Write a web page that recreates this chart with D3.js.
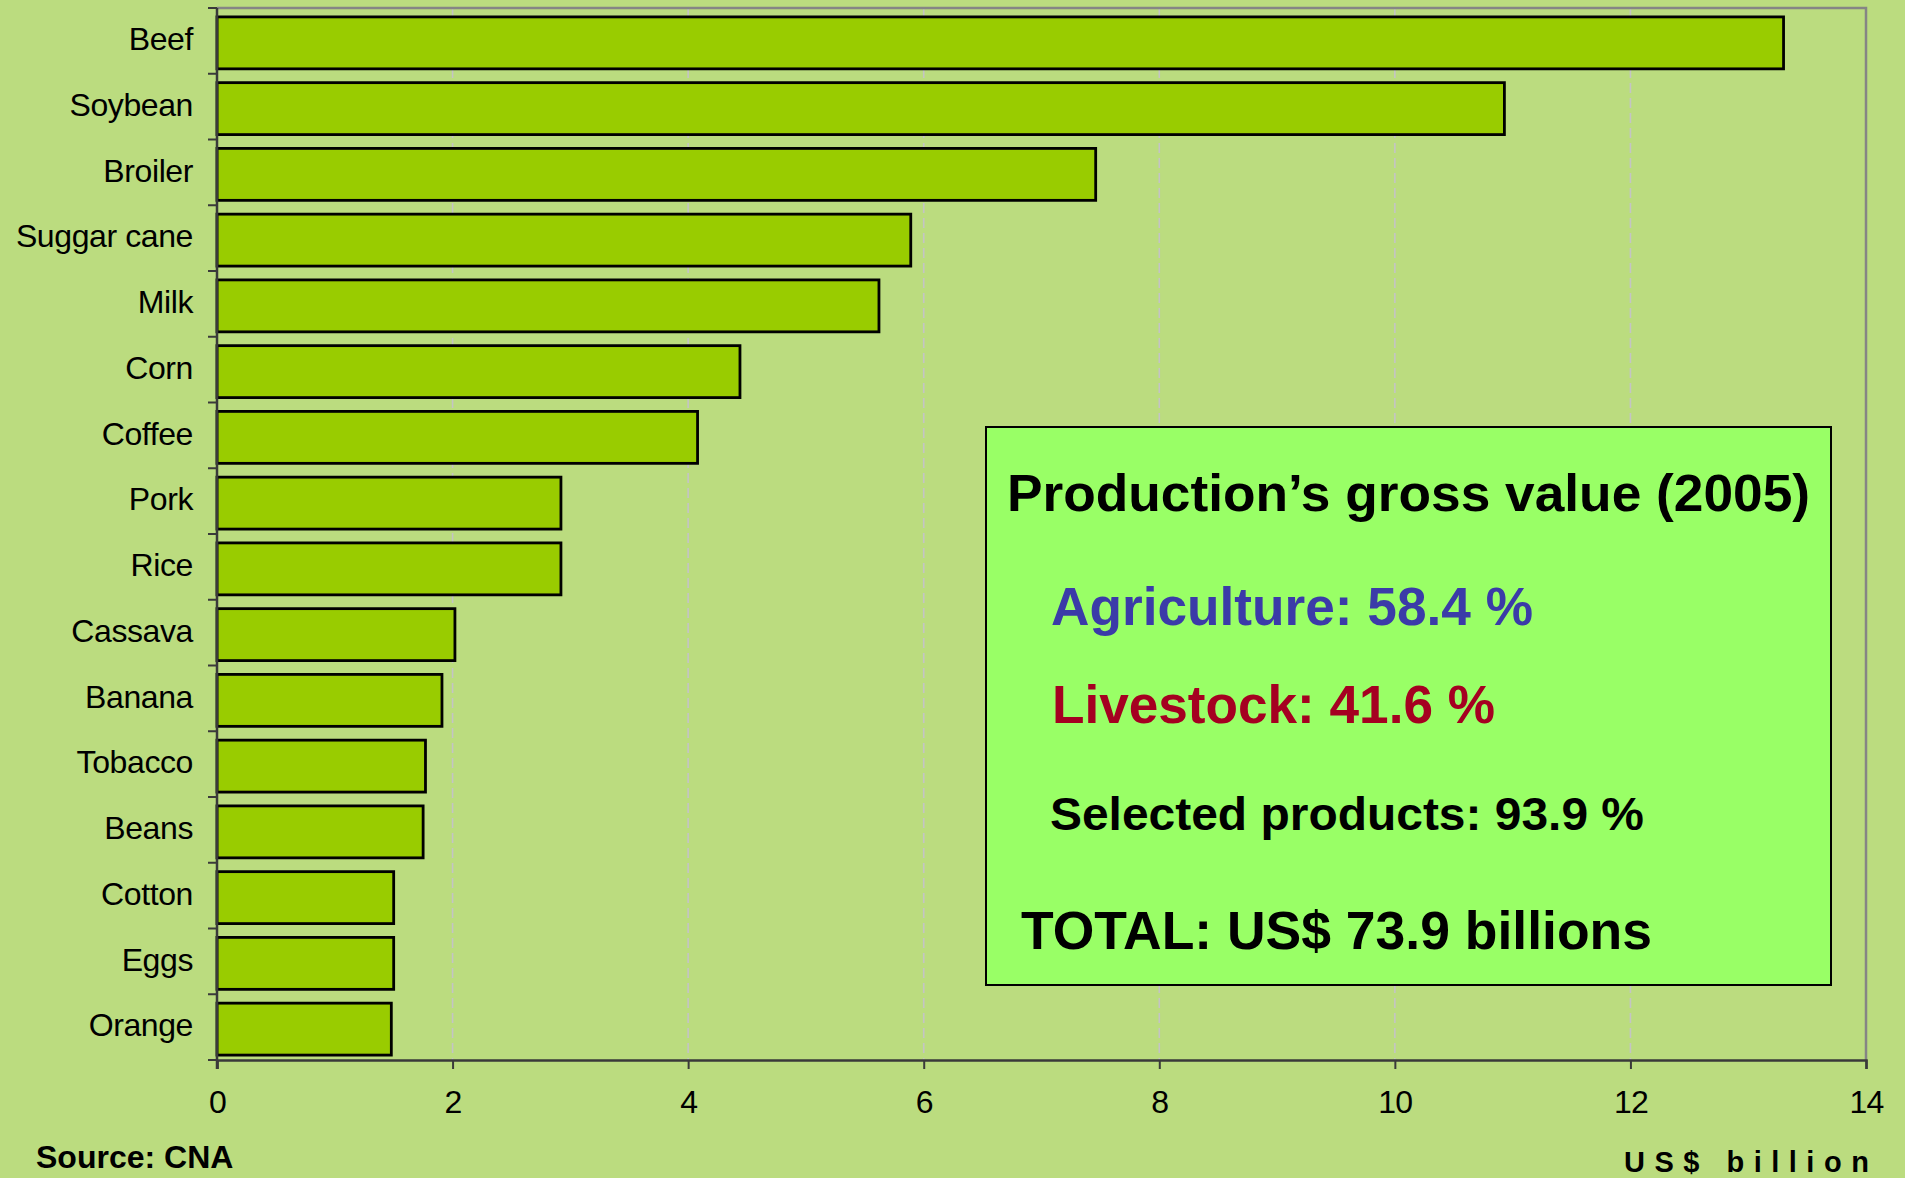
<!DOCTYPE html>
<html><head><meta charset="utf-8">
<script src="https://cdn.jsdelivr.net/npm/d3@7"></script>
<style>html,body{margin:0;padding:0;background:#bbdc7f;overflow:hidden}svg{display:block}</style>
</head><body><svg id="c" width="1905" height="1178"></svg>
<script>
const categories = ["Beef","Soybean","Broiler","Suggar cane","Milk","Corn","Coffee","Pork","Rice","Cassava","Banana","Tobacco","Beans","Cotton","Eggs","Orange"];
const values = [13.3,10.93,7.46,5.89,5.62,4.44,4.08,2.92,2.92,2.02,1.91,1.77,1.75,1.50,1.50,1.48];
const xTicks = [0,2,4,6,8,10,12,14];
const infoTitle = "Production\u2019s gross value (2005)";
const infoAgri = "Agriculture: 58.4 %";
const infoLive = "Livestock: 41.6 %";
const infoSel = "Selected products: 93.9 %";
const infoTotal = "TOTAL: US$ 73.9 billions";
const sourceText = "Source: CNA";
const unitText = "US$ billion";

const svg = d3.select("#c");
const font = "'Liberation Sans', Arial, sans-serif";
const L = 217, R = 1866, T = 8, B = 1060;

svg.append("rect").attr("width",1905).attr("height",1178).attr("fill","#bbdc7f");

const x = d3.scaleLinear().domain([0,14]).range([L,R]);
const y = d3.scaleBand().domain(categories).range([T,B]).paddingInner(0.21).paddingOuter(0.105);
const yb = d3.scaleBand().domain(categories).range([T,B]);

// gridlines
svg.append("g").selectAll("line").data(xTicks.filter(t=>t>0&&t<14)).join("line")
  .attr("x1",d=>x(d)).attr("x2",d=>x(d)).attr("y1",T).attr("y2",B)
  .attr("stroke","#c4c4c4").attr("stroke-width",1.6).attr("stroke-dasharray","10,5");

// plot border top/right
svg.append("path").attr("d",`M${L},${T}H${R}V${B}`).attr("fill","none").attr("stroke","#858585").attr("stroke-width",2.5);

// bars
svg.append("g").selectAll("rect").data(values).join("rect")
  .attr("x",x(0)).attr("y",(d,i)=>y(categories[i])+2)
  .attr("width",d=>x(d)-x(0)).attr("height",y.bandwidth())
  .attr("fill","#99cc00").attr("stroke","#000").attr("stroke-width",2.8);

// x axis
const xa = svg.append("g").attr("transform",`translate(0,${B})`)
  .call(d3.axisBottom(x).tickValues(xTicks).tickSize(9).tickPadding(21).tickFormat(d3.format("d")));
xa.select(".domain").attr("stroke","#3a3a3a").attr("stroke-width",2.5);
xa.selectAll(".tick line").attr("stroke","#3a3a3a").attr("stroke-width",2);
xa.selectAll("text").attr("font-family",font).attr("font-size",32).attr("letter-spacing",-0.8).attr("fill","#000");

// y axis line and category ticks
svg.append("line").attr("x1",L).attr("x2",L).attr("y1",T).attr("y2",B+9).attr("stroke","#3a3a3a").attr("stroke-width",2.5);
const bounds = categories.map(c=>yb(c)).concat([B]);
svg.append("g").selectAll("line").data(bounds).join("line")
  .attr("x1",L-9).attr("x2",L).attr("y1",d=>d).attr("y2",d=>d)
  .attr("stroke","#3a3a3a").attr("stroke-width",2);
svg.append("g").selectAll("text").data(categories).join("text")
  .attr("x",193).attr("y",d=>yb(d)+yb.bandwidth()/2-2).attr("dy","0.35em")
  .attr("text-anchor","end").attr("font-family",font).attr("font-size",32).attr("letter-spacing",-0.4).attr("fill","#000")
  .text(d=>d);

// info box
const bx=986, by=427, bw=845, bh=558;
svg.append("rect").attr("x",bx).attr("y",by).attr("width",bw).attr("height",bh)
  .attr("fill","#99ff66").attr("stroke","#000").attr("stroke-width",2);
const info = [
  {t:infoTitle, x:1007, y:511, s:52, c:"#000", w:803},
  {t:infoAgri, x:1051, y:625, s:53, c:"#3b3ba8", w:482},
  {t:infoLive, x:1052, y:723, s:53, c:"#a50021", w:443},
  {t:infoSel, x:1050, y:830, s:46, c:"#000", w:594},
  {t:infoTotal, x:1021, y:949, s:53, c:"#000", w:631}
];
svg.append("g").selectAll("text").data(info).join("text")
  .attr("x",d=>d.x).attr("y",d=>d.y).attr("font-family",font).attr("font-weight","bold")
  .attr("font-size",d=>d.s).attr("fill",d=>d.c)
  .attr("textLength",d=>d.w).attr("lengthAdjust","spacingAndGlyphs")
  .text(d=>d.t);

svg.append("text").attr("x",36).attr("y",1168).attr("font-family",font).attr("font-weight","bold")
  .attr("font-size",32).attr("fill","#000").text(sourceText);
svg.append("text").attr("x",1624).attr("y",1172).attr("font-family",font).attr("font-weight","bold")
  .attr("font-size",29).attr("letter-spacing",9.5).attr("fill","#000").text(unitText);
</script></body></html>
